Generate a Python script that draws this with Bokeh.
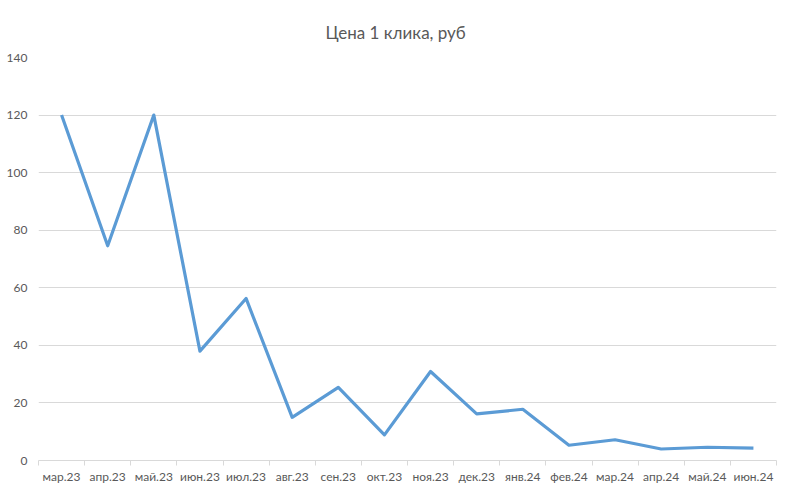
from bokeh.embed import file_html
from bokeh.models import FixedTicker
from bokeh.plotting import figure
from bokeh.resources import INLINE

MONTHS = ['мар.23', 'апр.23', 'май.23', 'июн.23', 'июл.23', 'авг.23', 'сен.23', 'окт.23',
          'ноя.23', 'дек.23', 'янв.24', 'фев.24', 'мар.24', 'апр.24', 'май.24', 'июн.24']
CLICK_PRICE = [120, 74.6, 120, 38, 56.3, 15, 25.4, 8.9, 30.9, 16.2, 17.8, 5.3, 7.2, 4.0, 4.6, 4.3]
Y_TICKS = [0, 20, 40, 60, 80, 100, 120, 140]

FONT = 'Lato'
TEXT_COLOR = '#595959'
GRID_COLOR = '#d9d9d9'

x_pos = [i + 0.5 for i in range(len(MONTHS))]

p = figure(width=783, height=486, x_range=(0, len(MONTHS)), y_range=(0, 140),
           output_backend='svg', toolbar_location=None,
           min_border_left=38, min_border_right=7, min_border_top=57, min_border_bottom=25)

p.title.text = 'Цена 1 клика, руб'
p.title.align = 'left'
p.title.offset = 287
p.title.text_font = FONT
p.title.text_font_size = '17px'
p.title.text_font_style = 'normal'
p.title.text_color = TEXT_COLOR
p.title.standoff = 30

p.line(x_pos, CLICK_PRICE, line_color='#5b9bd5', line_width=3.2, line_join='round')

p.outline_line_color = None
p.xgrid.grid_line_color = None
p.ygrid.grid_line_color = GRID_COLOR
p.ygrid.ticker = FixedTicker(ticks=Y_TICKS)

p.yaxis.ticker = FixedTicker(ticks=Y_TICKS)
p.yaxis.axis_line_color = None
p.yaxis.major_tick_line_color = None
p.yaxis.major_tick_out = 0
p.yaxis.minor_tick_line_color = None
p.yaxis.major_label_text_font = FONT
p.yaxis.major_label_text_font_size = '12px'
p.yaxis.major_label_text_color = TEXT_COLOR
p.yaxis.major_label_standoff = 11

p.xaxis.ticker = FixedTicker(ticks=x_pos, minor_ticks=list(range(len(MONTHS) + 1)))
p.xaxis.major_label_overrides = {x: m for x, m in zip(x_pos, MONTHS)}
p.xaxis.axis_line_color = GRID_COLOR
p.xaxis.major_tick_line_color = None
p.xaxis.major_tick_out = 0
p.xaxis.minor_tick_line_color = GRID_COLOR
p.xaxis.minor_tick_in = 0
p.xaxis.minor_tick_out = 5
p.xaxis.major_label_text_font = FONT
p.xaxis.major_label_text_font_size = '12px'
p.xaxis.major_label_text_color = TEXT_COLOR
p.xaxis.major_label_standoff = 3

open('out.html', 'w').write(file_html(p, INLINE))
